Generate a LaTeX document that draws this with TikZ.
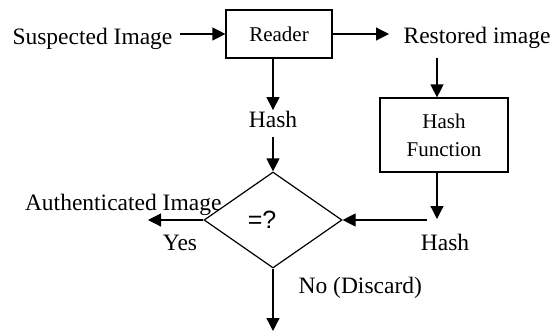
\documentclass[tikz,border=0pt]{standalone}
\usepackage{fontspec}
\setmainfont{Liberation Serif}
\setsansfont{Liberation Sans}
\usetikzlibrary{arrows.meta,shapes.geometric,calc}

\begin{document}
\begin{tikzpicture}[x=1pt,y=-1pt,
line width=1.2pt,
>={Triangle[length=13pt,width=13pt]},
txt/.style={inner sep=0pt,font=\fontsize{23.5}{28}\selectfont},
box/.style={draw,rectangle,inner sep=0pt,align=center,
font=\fontsize{21}{28}\selectfont},
test/.style={draw,diamond,aspect=1.4375,inner sep=0pt,
minimum width=138pt,minimum height=96pt}]
\useasboundingbox (0,0) rectangle (551,332);

\node[box,minimum width=106pt,minimum height=48pt] (reader) at (279,34) {Reader};
\node[txt,anchor=base east] (susp) at (173,44) {Suspected Image};
\node[txt,anchor=base west] (rest) at (403,43) {Restored image};
\node[box,minimum width=128pt,minimum height=74pt] (hashfn) at (444,135) {Hash\\Function};
\node[txt,anchor=base] (hashA) at (273,127) {Hash};
\node[test,label={[xshift=-11pt,font=\sffamily\fontsize{25}{25}\selectfont]center:=?}]
  (cmp) at (273,220) {};
\node[txt,anchor=base east] (auth) at (222,210) {Authenticated Image};
\node[txt,anchor=base] (yes) at (180,250) {Yes};
\node[txt,anchor=base] (hashB) at (445,250) {Hash};
\node[txt,anchor=base west] (no) at (298,293) {No (Discard)};
\coordinate (merge) at (437,219);
\coordinate (yesend) at (148,220);
\coordinate (noend) at (273,331);

\draw[->,shorten <=7pt] (susp.east |- reader.west) -- (reader.west);
\draw[->,shorten >=14pt] (reader.east) -- (reader.east -| rest.west);
\draw[->] (reader.south -| hashA) -- (hashA.north);
\draw[->,shorten <=9pt] (hashA.south) -- (cmp.north);
\draw[->,shorten <=9pt] ([xshift=-7pt]hashfn.north |- rest.south) -- ([xshift=-7pt]hashfn.north);
\draw[->] ([xshift=-7pt]hashfn.south) -- (merge);
\draw[->] ([xshift=-10pt]merge |- cmp.east) -- (cmp.east);
\draw[->] (cmp.west) -- (yesend);
\draw[->] (cmp.south) -- (noend);
\end{tikzpicture}
\end{document}
